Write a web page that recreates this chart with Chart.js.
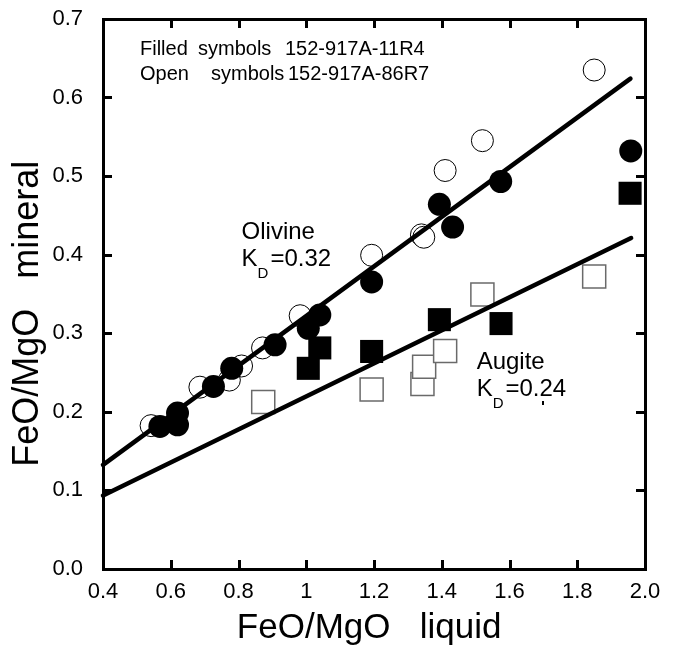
<!DOCTYPE html>
<html>
<head>
<meta charset="utf-8">
<script src="https://cdn.jsdelivr.net/npm/chart.js@4"></script>
<style>
    body { margin: 0; background: #fff; }
</style>
</head>
<body>
<canvas id="myChart" width="678" height="651"></canvas>
<script>
// Olivine, filled symbols 152-917A-11R4
const olivineFilledX = [0.568, 0.62, 0.62, 0.726, 0.78, 0.908, 1.006, 1.04, 1.193, 1.393, 1.432, 1.574, 1.958];
const olivineFilledY = [0.181, 0.183, 0.198, 0.232, 0.255, 0.285, 0.306, 0.323, 0.365, 0.464, 0.435, 0.493, 0.532];
// Olivine, open symbols 152-917A-86R7
const olivineOpenX = [0.542, 0.686, 0.773, 0.809, 0.871, 0.982, 1.193, 1.34, 1.347, 1.41, 1.52, 1.85];
const olivineOpenY = [0.182, 0.231, 0.240, 0.258, 0.281, 0.322, 0.399, 0.425, 0.422, 0.507, 0.545, 0.635];
// Augite, filled symbols
const augiteFilledX = [1.006, 1.04, 1.193, 1.393, 1.575, 1.956];
const augiteFilledY = [0.255, 0.281, 0.2765, 0.317, 0.312, 0.478];
// Augite, open symbols
const augiteOpenX = [0.873, 1.193, 1.343, 1.348, 1.41, 1.52, 1.85];
const augiteOpenY = [0.212, 0.228, 0.235, 0.257, 0.277, 0.349, 0.372];
// KD lines
const olivineLineX = [0.4, 1.957];
const olivineLineY = [0.132, 0.624];
const augiteLineX = [0.4, 1.959];
const augiteLineY = [0.093, 0.421];

const xTickLabels = ['0.4', '0.6', '0.8', '1', '1.2', '1.4', '1.6', '1.8', '2.0'];
const yTickLabels = ['0.0', '0.1', '0.2', '0.3', '0.4', '0.5', '0.6', '0.7'];

const FONT = "'Liberation Sans', Arial, sans-serif";

function points(xs, ys) {
    return xs.map((x, i) => ({x: x, y: ys[i]}));
}

function dotsFor(xs, ys) {
    return {
        data: points(xs, ys),
        pointStyle: 'circle',
        pointRadius: 0.8,
        pointBackgroundColor: '#000',
        pointBorderWidth: 0,
        showLine: false
    };
}

// frame, inward ticks and the text notes
const framePlugin = {
    id: 'frame',
    afterDraw(chart) {
        const ctx = chart.ctx;
        const a = chart.chartArea;
        const xs = chart.scales.x;
        const ys = chart.scales.y;
        const tl = 9;
        const w = 3;
        const L = Math.round(a.left), R = Math.round(a.right);
        const T = Math.round(a.top), B = Math.round(a.bottom);
        ctx.save();
        ctx.globalAlpha = 1;
        ctx.globalCompositeOperation = 'source-over';
        ctx.fillStyle = '#000';
        // frame
        ctx.fillRect(L - 1, T - 1, R - L + w, w);
        ctx.fillRect(L - 1, B - 1, R - L + w, w);
        ctx.fillRect(L - 1, T - 1, w, B - T + w);
        ctx.fillRect(R - 1, T - 1, w, B - T + w);
        // inward ticks
        xs.ticks.forEach(t => {
            const px = Math.round(xs.getPixelForValue(t.value));
            ctx.fillRect(px - 1, B - tl, w, tl);
            ctx.fillRect(px - 1, T, w, tl);
        });
        ys.ticks.forEach(t => {
            const py = Math.round(ys.getPixelForValue(t.value));
            ctx.fillRect(L, py - 1, tl, w);
            ctx.fillRect(R - tl, py - 1, tl, w);
        });

        ctx.textBaseline = 'alphabetic';
        ctx.textAlign = 'left';

        // sample note
        ctx.font = '20px ' + FONT;
        ctx.fillText('Filled', 140, 55);
        ctx.fillText('symbols', 198, 55);
        ctx.fillText('152-917A-11R4', 285, 55);
        ctx.fillText('Open', 140, 80);
        ctx.fillText('symbols', 211, 80);
        ctx.fillText('152-917A-86R7', 288, 80);

        function kd(label, value, x, y) {
            ctx.font = '24px ' + FONT;
            ctx.fillText(label, x, y);
            const y2 = y + 27;
            ctx.fillText('K', x, y2);
            const kw = ctx.measureText('K').width;
            ctx.font = '15px ' + FONT;
            ctx.fillText('D', x + kw, y2 + 12);
            const dw = ctx.measureText('D').width;
            ctx.font = '24px ' + FONT;
            ctx.fillText('=' + value, x + kw + dw + 2, y2);
        }
        kd('Olivine', '0.32', xs.getPixelForValue(0.809), ys.getPixelForValue(0.42));
        kd('Augite', '0.24', xs.getPixelForValue(1.503), ys.getPixelForValue(0.2545));
        // small stray mark under the Augite value
        ctx.fillRect(Math.round(xs.getPixelForValue(1.699)) - 1, Math.round(ys.getPixelForValue(0.2136)), 2, 4);
        ctx.restore();
    }
};

const lineStyle = {
    showLine: true,
    borderColor: '#000',
    borderWidth: 4.5,
    borderCapStyle: 'round',
    pointRadius: 0,
    fill: false
};

const data = {
    datasets: [
        {...lineStyle, data: points(olivineLineX, olivineLineY)},
        {...lineStyle, data: points(augiteLineX, augiteLineY)},
        {
            data: points(augiteFilledX, augiteFilledY),
            pointStyle: 'rect',
            pointRadius: 16.3,
            pointBackgroundColor: '#000',
            pointBorderColor: '#000',
            pointBorderWidth: 0
        },
        {
            data: points(augiteOpenX, augiteOpenY),
            pointStyle: 'rect',
            pointRadius: 16.3,
            pointBackgroundColor: '#fff',
            pointBorderColor: '#6a6a6a',
            pointBorderWidth: 1.5
        },
        dotsFor(augiteOpenX, augiteOpenY),
        {
            data: points(olivineFilledX, olivineFilledY),
            pointStyle: 'circle',
            pointRadius: 11.5,
            pointBackgroundColor: '#000',
            pointBorderColor: '#000',
            pointBorderWidth: 0
        },
        {
            data: points(olivineOpenX, olivineOpenY),
            pointStyle: 'circle',
            pointRadius: 11,
            pointBackgroundColor: '#fff',
            pointBorderColor: '#000',
            pointBorderWidth: 1
        },
        dotsFor(olivineOpenX, olivineOpenY)
    ]
};

const config = {
    type: 'scatter',
    data,
    plugins: [framePlugin],
    options: {
        responsive: false,
        animation: false,
        devicePixelRatio: 1,
        layout: {padding: {top: 19, right: 33, left: 0, bottom: 0}},
        datasets: {scatter: {clip: false}},
        plugins: {legend: {display: false}, tooltip: {enabled: false}},
        elements: {point: {hoverRadius: 0}},
        scales: {
            x: {
                type: 'linear',
                min: 0.4,
                max: 2.0,
                afterFit: (scale) => {
                    scale.height = 82.5;
                    scale.paddingLeft = 0;
                    scale.paddingRight = 0;
                },
                grid: {display: false, drawTicks: false},
                border: {display: false},
                ticks: {
                    stepSize: 0.2,
                    padding: 10,
                    color: '#000',
                    font: {family: FONT, size: 22},
                    maxRotation: 0,
                    autoSkip: false,
                    callback: (v, i) => xTickLabels[i]
                },
                title: {
                    display: true,
                    text: 'FeO/MgO   liquid ',
                    color: '#000',
                    font: {family: FONT, size: 35},
                    padding: {top: 0, bottom: 2}
                }
            },
            y: {
                type: 'linear',
                min: 0,
                max: 0.7,
                afterFit: (scale) => {
                    scale.width = 103;
                    scale.paddingTop = 0;
                    scale.paddingBottom = 0;
                },
                grid: {display: false, drawTicks: false},
                border: {display: false},
                ticks: {
                    stepSize: 0.1,
                    padding: 20,
                    color: '#000',
                    font: {family: FONT, size: 22},
                    autoSkip: false,
                    callback: (v, i) => yTickLabels[i]
                },
                title: {
                    display: true,
                    text: 'FeO/MgO   mineral    ',
                    color: '#000',
                    font: {family: FONT, size: 36},
                    padding: {top: 6, bottom: 0}
                }
            }
        }
    }
};

window.myChart = new Chart(document.getElementById('myChart'), config);
</script>
</body>
</html>
